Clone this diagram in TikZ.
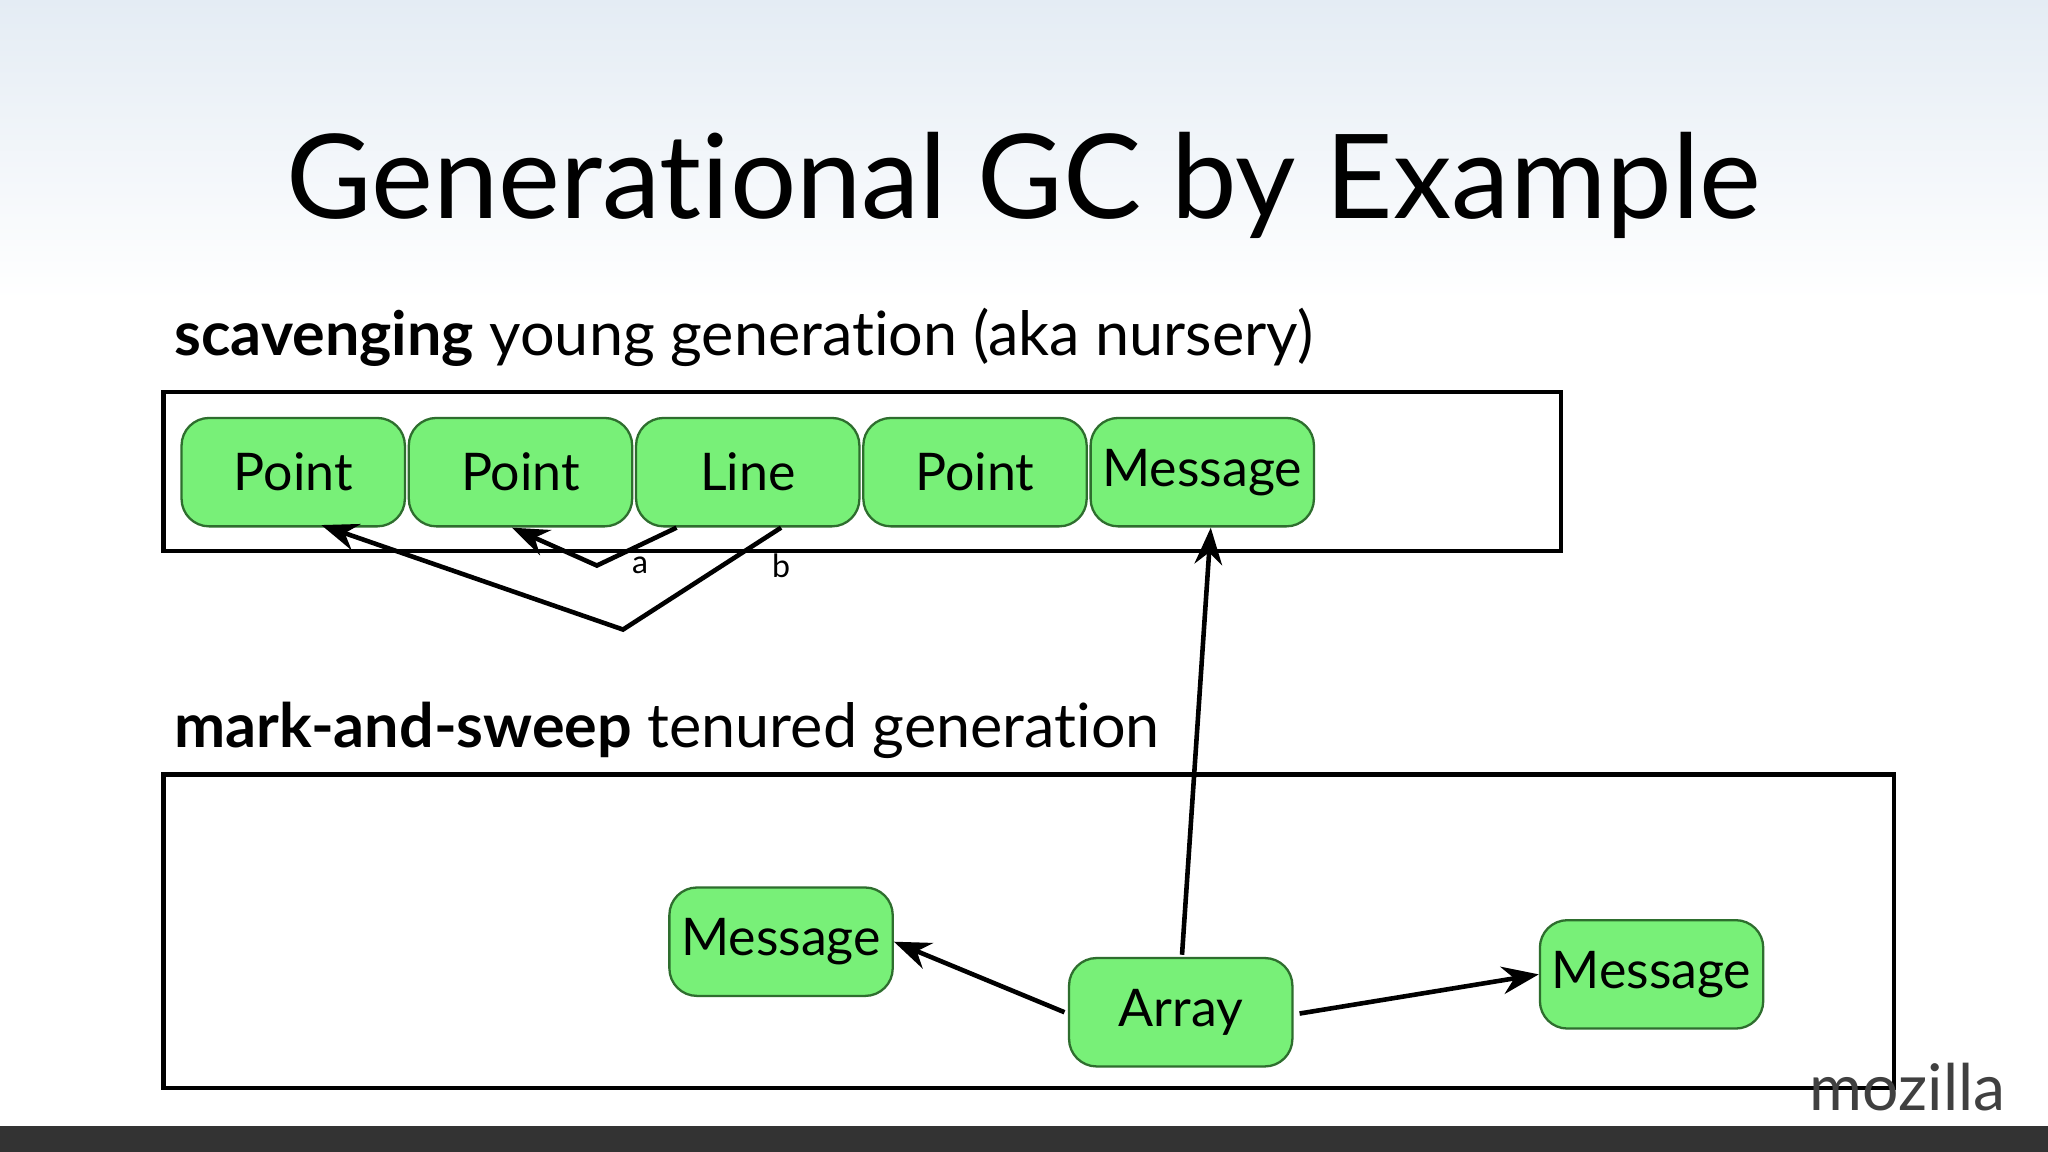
\documentclass[tikz,border=0pt]{standalone}
\usepackage{fontspec}
\setmainfont[Ligatures={NoCommon,NoRare}]{Lato}
\usetikzlibrary{arrows.meta}
\definecolor{boxg}{HTML}{78F078}
\definecolor{boxb}{HTML}{2E6E2E}
\definecolor{skyt}{HTML}{E4ECF4}
\newlength{\pxu}\setlength{\pxu}{0.01cm}
\tikzset{
 obj/.style={draw=boxb,fill=boxg,rounded corners=6pt,line width=0.5pt,minimum width=171\pxu,minimum height=83\pxu,inner sep=0pt,font=\fontsize{11.3pt}{13pt}\selectfont},
 region/.style={draw=black,line width=1pt},
 ref/.style={draw=black,line width=1pt,-{Stealth[length=8pt,width=6pt]}},
}
\begin{document}
\begin{tikzpicture}[x=0.01cm,y=-0.01cm]
\useasboundingbox (0,0) rectangle (1568,882);
\shade[top color=skyt,bottom color=white] (0,0) rectangle (1568,230);
\fill[white] (0,230) rectangle (1568,862);
\fill[black!80] (0,862) rectangle (1568,882);
\node[anchor=base,font=\fontsize{25.5pt}{30pt}\selectfont] (title) at (784,167) {Generational GC by Example};
\node[anchor=base west,inner sep=0pt,font=\fontsize{13.3pt}{15pt}\selectfont] (t1) at (133,272) {\textbf{scavenging} young generation (aka nursery)};
\node[anchor=base west,inner sep=0pt,font=\fontsize{13.3pt}{15pt}\selectfont] (t2) at (133,572) {\textbf{mark-and-sweep} tenured generation};
\draw[region] (125,300) rectangle (1195,422);
\draw[region] (125,593) rectangle (1450,833);
\node[obj] (p1) at (224.5,361.5) {Point};
\node[obj] (p2) at (398.5,361.5) {Point};
\node[obj] (ln) at (572.5,361.5) {Line};
\node[obj] (p3) at (746.5,361.5) {Point};
\node[obj] (m0) at (920.5,361.5) {Message};
\node[obj] (m1) at (598,721) {Message};
\node[obj] (ar) at (904,775) {Array};
\node[obj] (m2) at (1264.5,746) {Message};
\coordinate (ja) at (457,433);
\coordinate (jb) at (477,482);
\coordinate (sa) at (518,404);
\coordinate (sb) at (598,404);
\draw[ref] (sa) -- (ja) -- (392,404);
\draw[ref] (sb) -- (jb) -- (246,402);
\node[font=\fontsize{7pt}{8pt}\selectfont] (la) at (490,433) {a};
\node[font=\fontsize{7pt}{8pt}\selectfont] (lb) at (598,433) {b};
\draw[ref] (815,775) -- (m1.east);
\draw[ref] (995,776) -- (m2.west);
\draw[ref] (905,731) -- (927,404);
\node[anchor=base east,inner sep=0pt,text=black!75,font=\fontsize{14pt}{16pt}\fontseries{k}\selectfont] (moz) at (1536,850) {mozilla};
\end{tikzpicture}
\end{document}
